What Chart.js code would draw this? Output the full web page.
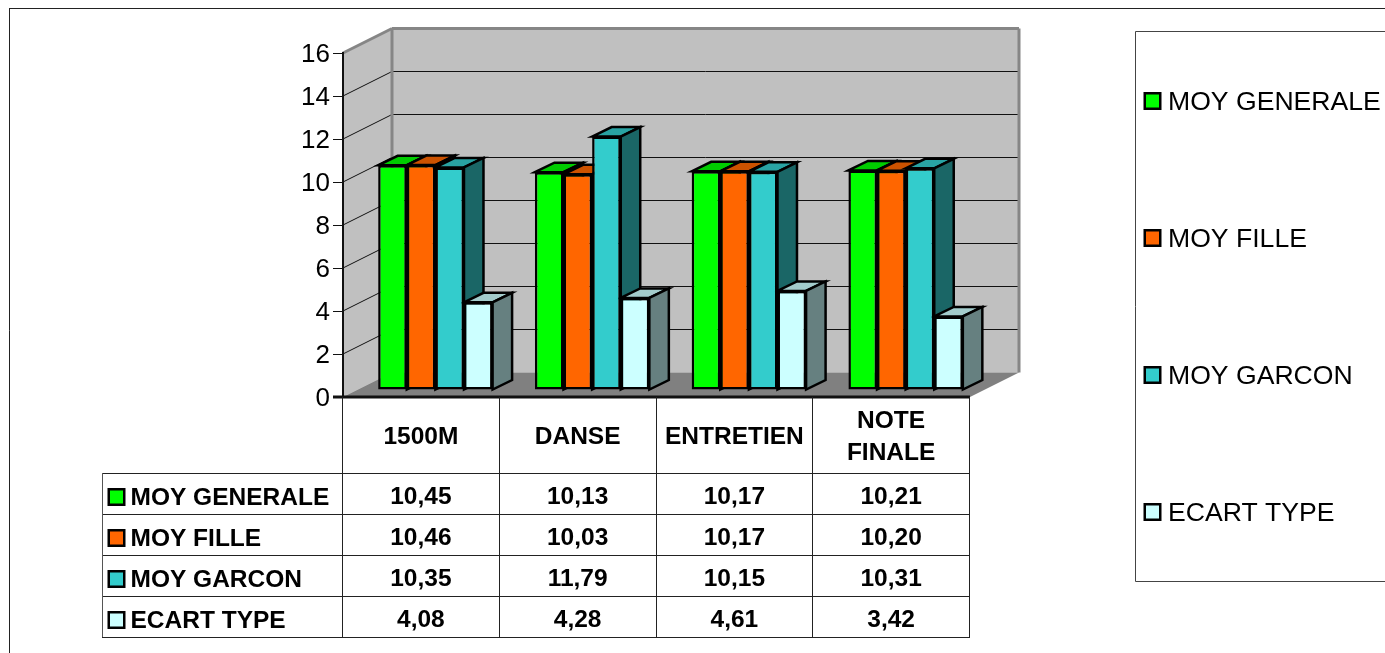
<!DOCTYPE html>
<html>
<head>
<meta charset="utf-8">
<script src="https://cdn.jsdelivr.net/npm/chart.js@4"></script>
<style>
html, body { margin: 0; padding: 0; background: #fff; overflow: hidden; }
canvas { display: block; }
</style>
</head>
<body>
<canvas id="myChart" width="1385" height="653"></canvas>
<script>
const categories = ["1500M", "DANSE", "ENTRETIEN", "NOTE FINALE"];
const seriesNames = ["MOY GENERALE", "MOY FILLE", "MOY GARCON", "ECART TYPE"];
const moyGenerale = [10.45, 10.13, 10.17, 10.21];
const moyFille = [10.46, 10.03, 10.17, 10.20];
const moyGarcon = [10.35, 11.79, 10.15, 10.31];
const ecartType = [4.08, 4.28, 4.61, 3.42];
const seriesValues = [moyGenerale, moyFille, moyGarcon, ecartType];
const yTicks = [0, 2, 4, 6, 8, 10, 12, 14, 16];

const fronts = ["#00ff00", "#ff6600", "#33cccc", "#ccffff"];
const tops = ["#00cc00", "#cc5200", "#29a3a3", "#a3cccc"];
const sides = ["#008000", "#803300", "#1a6666", "#668080"];

const FONT = '"Liberation Sans", Arial, sans-serif';
const wallDepth = { x: 49, y: -24.5 };
const barShift = { x: 14, y: -7 };
const barDepth = { x: 19.5, y: -9.5 };
const tableLeft = 102;
const headerBottom = 473;
const rowHeight = 41;

function poly(ctx, pts, fill, stroke, lw) {
	ctx.beginPath();
	pts.forEach((p, i) => (i ? ctx.lineTo(p[0], p[1]) : ctx.moveTo(p[0], p[1])));
	ctx.closePath();
	if (fill) {
		ctx.fillStyle = fill;
		ctx.fill();
	}
	if (stroke) {
		ctx.strokeStyle = stroke;
		ctx.lineWidth = lw;
		ctx.lineJoin = "miter";
		ctx.stroke();
	}
}

function line(ctx, x1, y1, x2, y2, color, lw) {
	ctx.beginPath();
	ctx.moveTo(x1, y1);
	ctx.lineTo(x2, y2);
	ctx.strokeStyle = color;
	ctx.lineWidth = lw;
	ctx.stroke();
}

function marker(ctx, x, cy, i) {
	ctx.fillStyle = "#000";
	ctx.fillRect(x, cy - 9, 18, 18);
	ctx.fillStyle = fronts[i];
	ctx.fillRect(x + 2.5, cy - 6.5, 13, 13);
}

const walls3d = {
	id: "walls3d",
	beforeDraw(chart) {
		const ctx = chart.ctx;
		const { left, right, top, bottom } = chart.chartArea;
		const dx = wallDepth.x;
		const dy = wallDepth.y;
		ctx.save();
		ctx.fillStyle = "#fff";
		ctx.fillRect(0, 0, chart.width, chart.height);

		// page frame
		line(ctx, 9.5, 8.5, 9.5, 653, "#222", 1);
		line(ctx, 9, 8.5, 1385, 8.5, "#222", 1);

		poly(ctx, [[left, top], [left + dx, top + dy], [left + dx, bottom + dy], [left, bottom]], "#c0c0c0");
		poly(ctx, [[left + dx, top + dy], [right + dx, top + dy], [right + dx, bottom + dy], [left + dx, bottom + dy]], "#c0c0c0");
		poly(ctx, [[left, bottom], [left + dx, bottom + dy], [right + dx, bottom + dy], [right, bottom]], "#808080");

		const y = chart.scales.y;
		yTicks.forEach((v) => {
			if (v === 0 || v === 16) return;
			const py = y.getPixelForValue(v);
			line(ctx, left, py, left + dx, py + dy, "#111", 1);
			line(ctx, left + dx, py + dy, right + dx, py + dy, "#111", 1);
		});

		line(ctx, left, top, left + dx, top + dy, "#868686", 3);
		line(ctx, left + dx, top + dy, right + dx, top + dy, "#868686", 3);
		line(ctx, left + dx, top + dy, left + dx, bottom + dy, "#868686", 3);
		line(ctx, right + dx, top + dy, right + dx, bottom + dy, "#868686", 3);
		ctx.restore();
	},
	beforeDatasetsDraw(chart) {
		const ctx = chart.ctx;
		ctx.save();
		ctx.translate(barShift.x, barShift.y);
		const dx = barDepth.x;
		const dy = barDepth.y;
		// left to right, the library paints the fronts over these afterwards
		categories.forEach((c, k) => {
			seriesNames.forEach((n, s) => {
				const b = chart.getDatasetMeta(s).data[k];
				const l = b.x - b.width / 2;
				const r = b.x + b.width / 2;
				poly(ctx, [[l, b.y], [l + dx, b.y + dy], [r + dx, b.y + dy], [r, b.y]], tops[s], "#000", 2.5);
				poly(ctx, [[r, b.y], [r + dx, b.y + dy], [r + dx, b.base + dy], [r, b.base]], sides[s], "#000", 2.5);
			});
		});
	},
	afterDatasetsDraw(chart) {
		chart.ctx.restore();
	},
	afterDraw(chart) {
		const ctx = chart.ctx;
		const { left, right, bottom } = chart.chartArea;
		const w = (right - left) / categories.length;
		const tableBottom = headerBottom + rowHeight * seriesNames.length;
		ctx.save();

		// floor front edge
		line(ctx, left - 10, bottom, right, bottom, "#111", 3);

		// data table grid
		for (let i = 0; i <= categories.length; i++) {
			line(ctx, Math.round(left + i * w) - 0.5, bottom, Math.round(left + i * w) - 0.5, tableBottom, "#222", 1);
		}
		for (let r = 0; r <= seriesNames.length; r++) {
			const py = headerBottom + r * rowHeight + 0.5;
			line(ctx, tableLeft, py, right, py, "#222", 1);
		}
		line(ctx, tableLeft + 0.5, headerBottom, tableLeft + 0.5, tableBottom, "#555", 1);

		ctx.fillStyle = "#000";
		ctx.textBaseline = "middle";
		ctx.textAlign = "center";
		ctx.font = "bold 24.5px " + FONT;
		categories.forEach((c, k) => {
			const cx = left + (k + 0.5) * w - 0.5;
			if (c === "NOTE FINALE") {
				ctx.fillText("NOTE", cx, 421);
				ctx.fillText("FINALE", cx, 453);
			} else {
				ctx.fillText(c, cx, 437);
			}
			seriesValues.forEach((vals, s) => {
				const text = vals[k].toFixed(2).replace(".", ",");
				ctx.fillText(text, cx, headerBottom + s * rowHeight + 24);
			});
		});

		ctx.textAlign = "left";
		seriesNames.forEach((n, s) => {
			const cy = headerBottom + s * rowHeight + 24;
			marker(ctx, 107.5, cy, s);
			ctx.fillStyle = "#000";
			ctx.font = "bold 24.5px " + FONT;
			ctx.fillText(n, 130.5, cy + 1);
		});

		// legend box, open on the right like the source
		ctx.beginPath();
		ctx.moveTo(1385, 31.5);
		ctx.lineTo(1135.5, 31.5);
		ctx.lineTo(1135.5, 581.5);
		ctx.lineTo(1385, 581.5);
		ctx.strokeStyle = "#444";
		ctx.lineWidth = 1;
		ctx.stroke();
		seriesNames.forEach((n, s) => {
			const cy = 101 + s * 137;
			marker(ctx, 1143.5, cy, s);
			ctx.fillStyle = "#000";
			ctx.font = "26.6px " + FONT;
			ctx.fillText(n, 1168, cy + 2);
		});
		ctx.restore();
	},
};

const data = {
	labels: categories,
	datasets: seriesNames.map((name, s) => ({
		label: name,
		data: seriesValues[s],
		backgroundColor: fronts[s],
		borderColor: "#000",
		borderWidth: 2.5,
		borderSkipped: false,
		barPercentage: 1,
		categoryPercentage: 0.73,
		clip: false,
	})),
};

const config = {
	type: "bar",
	data,
	plugins: [walls3d],
	options: {
		responsive: false,
		devicePixelRatio: 1,
		animation: false,
		layout: {
			padding: { left: 280, top: 53, right: 415, bottom: 256 },
		},
		plugins: {
			legend: { display: false },
			title: { display: false },
			tooltip: { enabled: false },
		},
		scales: {
			x: {
				ticks: { display: false },
				grid: { display: false },
				border: { display: false },
				afterFit(scale) {
					scale.height = 0;
				},
			},
			y: {
				min: 0,
				max: 16,
				afterFit(scale) {
					scale.width = 63;
				},
				afterBuildTicks(scale) {
					scale.ticks = yTicks.map((v) => ({ value: v }));
				},
				ticks: {
					color: "#000",
					padding: 3,
					labelOffset: 2,
					font: { family: FONT, size: 26 },
				},
				grid: {
					drawOnChartArea: false,
					drawTicks: true,
					tickLength: 10,
					color: "#111",
				},
				border: { display: true, color: "#111", width: 2 },
			},
		},
	},
};

const ctx = document.getElementById("myChart").getContext("2d");
new Chart(ctx, config);
</script>
</body>
</html>
